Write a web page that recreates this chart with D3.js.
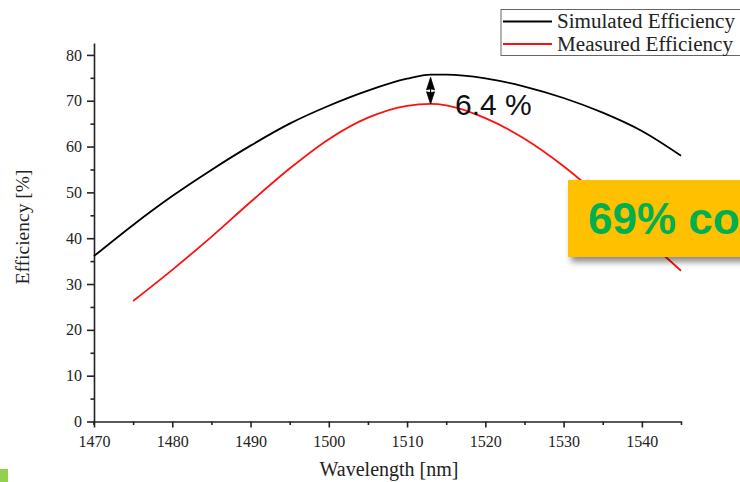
<!DOCTYPE html>
<html><head><meta charset="utf-8">
<script src="https://cdn.jsdelivr.net/npm/d3@7"></script>
<style>html,body{margin:0;padding:0;background:#fff;overflow:hidden}svg{display:block}</style>
</head><body>
<svg id="chart" width="740" height="482"></svg>
<script>
const simWavelength = [1470,1475,1480,1485,1490,1495,1500,1505,1510,1513,1515,1520,1525,1530,1535,1540,1545];
const simEfficiency = [36.1,42.9,49.2,54.9,60.2,65.0,68.9,72.2,74.8,75.7,75.7,74.9,73.1,70.6,67.4,63.4,58.0];
const measWavelength = [1475,1480,1485,1490,1495,1500,1505,1510,1513,1515,1520,1525,1530,1535,1540,1545];
const measEfficiency = [26.3,33.1,40.3,47.9,55.2,61.6,66.3,68.9,69.3,69.0,66.2,61.7,55.7,48.5,40.6,32.9];
const xMajorTicks = [1470,1480,1490,1500,1510,1520,1530,1540];
const xMinorTicks = [1475,1485,1495,1505,1515,1525,1535,1545];
const yMajorTicks = [0,10,20,30,40,50,60,70,80];
const yMinorTicks = [5,15,25,35,45,55,65,75];
const seriesNames = ["Simulated Efficiency","Measured Efficiency"];
const gapAt = 1513, gapLabel = "6.4 %";
const calloutText = "69% coupling efficiency";

const svg = d3.select("#chart");
const x = d3.scaleLinear().domain([1470,1545]).range([94,681]);
const y = d3.scaleLinear().domain([0,82.6]).range([421.5,43]);
const serif = "'Liberation Serif','Times New Roman',serif";
const sans = "'Liberation Sans',Arial,sans-serif";

// axes
const gx = svg.append("g").attr("transform","translate(0,421.5)");
gx.call(d3.axisBottom(x).tickValues(xMajorTicks).tickFormat(d3.format("d")).tickSize(6).tickSizeOuter(0));
const gxm = svg.append("g").attr("transform","translate(0,421.5)");
gxm.call(d3.axisBottom(x).tickValues(xMinorTicks).tickFormat("").tickSize(3.5).tickSizeOuter(0));
gxm.select(".domain").remove();
const gy = svg.append("g").attr("transform","translate(94,0)");
gy.call(d3.axisLeft(y).tickValues(yMajorTicks).tickSize(7).tickSizeOuter(0));
const gym = svg.append("g").attr("transform","translate(94,0)");
gym.call(d3.axisLeft(y).tickValues(yMinorTicks).tickFormat("").tickSize(3.5).tickSizeOuter(0));
gym.select(".domain").remove();
[gx,gxm,gy,gym].forEach(g=>{
  g.selectAll("path,line").attr("stroke","#222").attr("stroke-width",1.6);
  g.selectAll("text").attr("font-family",serif).attr("font-size",16).attr("fill","#222");
});
gx.selectAll("text").attr("dy","1.0em");
gy.selectAll("text").attr("dx","-0.12em");
svg.append("line").attr("x1",94).attr("x2",94).attr("y1",421.5).attr("y2",425).attr("stroke","#222").attr("stroke-width",1.6);

// titles
svg.append("text").attr("x",389).attr("y",476).attr("text-anchor","middle")
  .attr("font-family",serif).attr("font-size",20).attr("fill","#222").text("Wavelength [nm]");
svg.append("text").attr("transform","translate(29,227) rotate(-90)").attr("text-anchor","middle")
  .attr("font-family",serif).attr("font-size",19.5).attr("fill","#222").text("Efficiency [%]");

// curves
const line = d3.line().x(d=>x(d[0])).y(d=>y(d[1])).curve(d3.curveMonotoneX);
svg.append("path").datum(d3.zip(simWavelength,simEfficiency)).attr("d",line)
  .attr("fill","none").attr("stroke","#000").attr("stroke-width",1.8);
svg.append("path").datum(d3.zip(measWavelength,measEfficiency)).attr("d",line)
  .attr("fill","none").attr("stroke","#ff1010").attr("stroke-width",1.8);

// gap annotation arrow
const simPeak = d3.max(simEfficiency), measPeak = d3.max(measEfficiency);
const ax = x(gapAt), yTop = y(simPeak)+3, yBot = y(measPeak);
const ymid = (yTop+yBot)/2;
svg.append("path")
  .attr("d",`M${ax},${yTop} L${ax+4},${ymid-1} L${ax},${ymid-2} L${ax-4},${ymid-1} Z M${ax},${yBot} L${ax+4},${ymid+1} L${ax},${ymid+2} L${ax-4},${ymid+1} Z`)
  .attr("fill","#000").attr("stroke","#000").attr("stroke-width",0.8);
svg.append("line").attr("x1",ax).attr("x2",ax).attr("y1",yTop).attr("y2",yBot).attr("stroke","#000").attr("stroke-width",1.2);
svg.append("text").attr("x",ax+24.5).attr("y",115).attr("font-family",sans).attr("font-size",30).attr("fill","#111").text(gapLabel);

// legend
const lg = svg.append("g");
lg.append("rect").attr("x",501).attr("y",9.5).attr("width",260).attr("height",46)
  .attr("fill","#fff").attr("stroke","#666").attr("stroke-width",1);
const legColors = ["#000","#ff1010"];
seriesNames.forEach((n,i)=>{
  const ly = 21.5 + i*22.5;
  lg.append("line").attr("x1",503).attr("x2",552).attr("y1",ly).attr("y2",ly).attr("stroke",legColors[i]).attr("stroke-width",2);
  lg.append("text").attr("x",557).attr("y",ly+6.5).attr("font-family",serif).attr("font-size",20.5).attr("fill","#222")
    .attr("textLength", i===0 ? 178 : 176).attr("lengthAdjust","spacingAndGlyphs").text(n);
});

// callout box
const defs = svg.append("defs");
const f = defs.append("filter").attr("id","sh").attr("x","-10%").attr("y","-20%").attr("width","130%").attr("height","160%");
f.append("feDropShadow").attr("dx",3).attr("dy",5).attr("stdDeviation",3).attr("flood-color","#000").attr("flood-opacity",0.45);
svg.append("rect").attr("x",568).attr("y",180).attr("width",260).attr("height",77).attr("fill","#ffc000").attr("filter","url(#sh)");
svg.append("text").attr("x",588).attr("y",234).attr("font-family",sans).attr("font-weight","bold").attr("font-size",44)
  .attr("fill","#00b050").text(calloutText);

// green marker bottom-left
svg.append("rect").attr("x",0).attr("y",469).attr("width",8).attr("height",13).attr("fill","#92d050");
</script>
</body></html>
